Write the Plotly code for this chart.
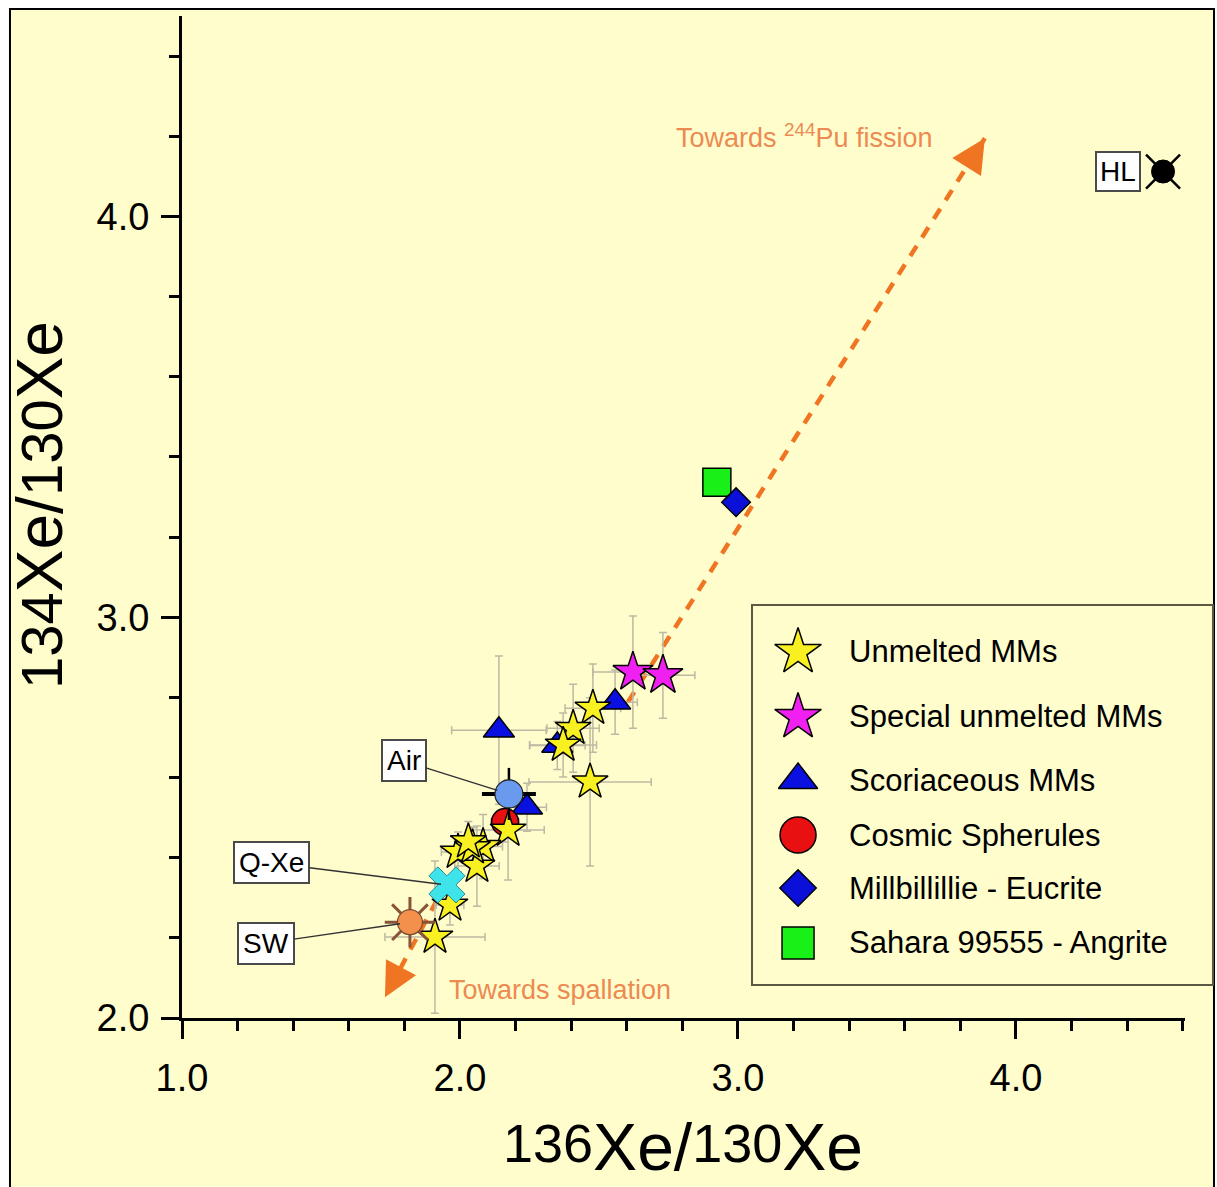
import plotly.graph_objects as go

FONT = "Arial, 'Liberation Sans', sans-serif"
CREAM = "#FFFDCC"
ERR_COLOR = "#BDB9A4"
ORANGE = "#F07522"

# ---- sample data: 136Xe/130Xe (x) and 134Xe/130Xe (y) with 1-sigma errors ----
unmelted_x = [2.478, 2.407, 2.371, 2.468, 2.173, 2.083, 1.993, 2.061, 2.045, 2.030, 1.964, 1.910]
unmelted_y = [2.773, 2.723, 2.681, 2.589, 2.469, 2.428, 2.414, 2.379, 2.425, 2.440, 2.282, 2.202]
unmelted_ex = [0.10, 0.094, 0.12, 0.22, 0.13, 0.07, 0.06, 0.08, 0.05, 0.05, 0.05, 0.18]
unmelted_ey = [0.11, 0.11, 0.08, 0.21, 0.125, 0.08, 0.05, 0.10, 0.05, 0.05, 0.05, 0.19]

special_x = [2.622, 2.730]
special_y = [2.863, 2.855]
special_ex = [0.144, 0.115]
special_ey = [0.14, 0.107]

scoria_x = [2.140, 2.241, 2.558, 2.350]
scoria_y = [2.718, 2.526, 2.788, 2.680]
scoria_ex = [0.17, 0.07, 0.08, 0.10]
scoria_ey = [0.185, 0.06, 0.08, 0.06]

spherule_x = [2.162]
spherule_y = [2.489]
spherule_ex = [0.05]
spherule_ey = [0.05]

eucrite_x = [2.993]
eucrite_y = [3.287]

angrite_x = [2.924]
angrite_y = [3.337]

# ---- reference compositions ----
air_x, air_y = [2.176], [2.559]
air_ex, air_ey = [0.097], [0.065]
qxe_x, qxe_y = [1.953], [2.332]
sw_x, sw_y = [1.820], [2.239]
hl_x, hl_y = [4.529], [4.112]

# ---- trend arrows (start -> tip) ----
fission_x = [2.604, 3.888]
fission_y = [2.788, 4.195]
spallation_x = [1.917, 1.730]
spallation_y = [2.294, 2.052]

# ---- axis ticks ----
x_ticks = [1.0, 2.0, 3.0, 4.0]
y_ticks = [2.0, 3.0, 4.0]

legend_names = ["Unmelted MMs", "Special unmelted MMs", "Scoriaceous MMs",
                "Cosmic Spherules", "Millbillillie - Eucrite", "Sahara 99555 - Angrite"]

# pixel scale of the axes (plot area 1003 x 1002 px)
X_RANGE = [1.0, 4.608]
Y_RANGE = [2.0, 4.5]
PX_PER_X = 1003 / (X_RANGE[1] - X_RANGE[0])
PX_PER_Y = 1002 / (Y_RANGE[1] - Y_RANGE[0])

fig = go.Figure()

# trend lines (dashed) under everything
for xs, ys in [(fission_x, fission_y), (spallation_x, spallation_y)]:
    fig.add_trace(go.Scatter(x=xs, y=ys, mode="lines", showlegend=False, hoverinfo="skip",
                             line=dict(color=ORANGE, width=4.5, dash="12px,10px")))

# error bars drawn first so all markers sit on top
for xs, ys, exs, eys in [(scoria_x, scoria_y, scoria_ex, scoria_ey),
                         (spherule_x, spherule_y, spherule_ex, spherule_ey),
                         (special_x, special_y, special_ex, special_ey),
                         (unmelted_x, unmelted_y, unmelted_ex, unmelted_ey)]:
    fig.add_trace(go.Scatter(
        x=xs, y=ys, mode="markers", showlegend=False, hoverinfo="skip",
        marker=dict(size=2, opacity=0),
        error_x=dict(type="data", array=exs, color=ERR_COLOR, thickness=1.5, width=4),
        error_y=dict(type="data", array=eys, color=ERR_COLOR, thickness=1.5, width=4)))

edge = dict(color="black", width=1.5)
fig.add_trace(go.Scatter(x=scoria_x, y=scoria_y, mode="markers", name=legend_names[2],
                         marker=dict(symbol="triangle-up", size=27, color="#0A10E0", line=edge)))
fig.add_trace(go.Scatter(x=spherule_x, y=spherule_y, mode="markers", name=legend_names[3],
                         marker=dict(symbol="circle", size=27, color="#E81010", line=edge)))
fig.add_trace(go.Scatter(x=angrite_x, y=angrite_y, mode="markers", name=legend_names[5],
                         marker=dict(symbol="square", size=28, color="#18F018", line=edge)))
fig.add_trace(go.Scatter(x=eucrite_x, y=eucrite_y, mode="markers", name=legend_names[4],
                         marker=dict(symbol="diamond", size=22, color="#0A10D8", line=edge)))
fig.add_trace(go.Scatter(x=special_x, y=special_y, mode="markers", name=legend_names[1],
                         marker=dict(symbol="star", size=30, color="#F020F0", line=edge)))
fig.add_trace(go.Scatter(x=unmelted_x, y=unmelted_y, mode="markers", name=legend_names[0],
                         marker=dict(symbol="star", size=27, color="#F8F020", line=edge)))

# Air: blue circle with black cross bars
fig.add_trace(go.Scatter(
    x=air_x, y=air_y, mode="markers", name="Air",
    marker=dict(symbol="circle", size=28, color="#6A9AEE", line=dict(color="#222", width=1.2)),
    error_x=dict(type="data", array=air_ex, color="black", thickness=4, width=0),
    error_y=dict(type="data", array=air_ey, color="black", thickness=2.5, width=0)))

# Solar wind: orange disc with rays
fig.add_trace(go.Scatter(x=sw_x, y=sw_y, mode="markers", showlegend=False, hoverinfo="skip",
                         marker=dict(symbol="asterisk-open", size=42, color="#8A5438",
                                     line=dict(color="#8A5438", width=3))))
fig.add_trace(go.Scatter(x=sw_x, y=sw_y, mode="markers", name="SW",
                         marker=dict(symbol="circle", size=25, color="#F2904C", line=dict(color="#7a4a30", width=1.2))))

# Q-Xe: cyan cross
fig.add_trace(go.Scatter(x=qxe_x, y=qxe_y, mode="markers", name="Q-Xe",
                         marker=dict(symbol="x", size=32, color="#3FE3EA", line=dict(color="#2A8E96", width=1))))

# HL: black disc with diagonal rays
fig.add_trace(go.Scatter(x=hl_x, y=hl_y, mode="markers", showlegend=False, hoverinfo="skip",
                         marker=dict(symbol="x-thin-open", size=34, color="black",
                                     line=dict(color="black", width=2.5))))
fig.add_trace(go.Scatter(x=hl_x, y=hl_y, mode="markers", name="HL",
                         marker=dict(symbol="circle", size=23, color="black", line=dict(color="black", width=1))))

# ---- custom legend on an overlay axis spanning the plot area (0..1) ----
legend_symbols = ["star", "star", "triangle-up", "circle", "diamond", "square"]
legend_colors = ["#F8F020", "#F020F0", "#0A10E0", "#E81010", "#0A10D8", "#18F018"]
legend_sizes = [35, 35, 34, 36, 28, 32]
legend_rows = [0.3653, 0.3004, 0.2375, 0.1826, 0.1297, 0.0749]
legend_marker_x = 0.6142
legend_text_x = 0.663

for sym, col, sz, ry in zip(legend_symbols, legend_colors, legend_sizes, legend_rows):
    fig.add_trace(go.Scatter(x=[legend_marker_x], y=[ry], xaxis="x2", yaxis="y2",
                             mode="markers", showlegend=False, hoverinfo="skip",
                             marker=dict(symbol=sym, size=sz, color=col, line=edge)))

annotations = []
for name, ry in zip(legend_names, legend_rows):
    annotations.append(dict(xref="paper", yref="paper", x=legend_text_x, y=ry,
                            xanchor="left", yanchor="middle", text=name, showarrow=False,
                            font=dict(family=FONT, size=31, color="black")))

# callout labels for reference compositions
box = dict(bgcolor="white", bordercolor="#4A4A4A", borderwidth=2, borderpad=4,
           font=dict(family=FONT, size=28, color="black"))
annotations.append(dict(x=air_x[0], y=air_y[0], text="Air", ax=-105, ay=-33,
                        showarrow=True, arrowhead=0, arrowwidth=1.5, arrowcolor="#333",
                        standoff=12, **box))
annotations.append(dict(x=qxe_x[0], y=qxe_y[0], text="Q-Xe", ax=-175, ay=-22,
                        showarrow=True, arrowhead=0, arrowwidth=1.5, arrowcolor="#333",
                        standoff=6, **box))
annotations.append(dict(x=sw_x[0], y=sw_y[0], text="SW", ax=-144, ay=21,
                        showarrow=True, arrowhead=0, arrowwidth=1.5, arrowcolor="#333",
                        standoff=10, **box))
annotations.append(dict(x=hl_x[0], y=hl_y[0], text="HL", showarrow=False, xshift=-45,
                        bgcolor="white", bordercolor="#4A4A4A", borderwidth=2, borderpad=3,
                        font=dict(family=FONT, size=28, color="black")))

# arrowheads for the two trends: a short solid stub (~34 px) ending at the tip
HEAD_STUB_PX = 34
for xs, ys in [(fission_x, fission_y), (spallation_x, spallation_y)]:
    dxp = (xs[1] - xs[0]) * PX_PER_X
    dyp = (ys[1] - ys[0]) * PX_PER_Y
    back = HEAD_STUB_PX / (dxp ** 2 + dyp ** 2) ** 0.5
    annotations.append(dict(x=xs[1], y=ys[1], xref="x", yref="y", axref="x", ayref="y",
                            ax=xs[1] - back * (xs[1] - xs[0]), ay=ys[1] - back * (ys[1] - ys[0]),
                            text="", showarrow=True, arrowhead=2, arrowsize=1.7,
                            arrowwidth=4, arrowcolor=ORANGE, standoff=0))

annotations.append(dict(x=3.24, y=4.2, xref="x", yref="y", text="Towards <sup>244</sup>Pu fission",
                        showarrow=False, font=dict(family=FONT, size=27, color="#EC8A52")))
annotations.append(dict(x=2.36, y=2.07, xref="x", yref="y", text="Towards spallation",
                        showarrow=False, font=dict(family=FONT, size=27, color="#EC8A52")))

# axis titles
annotations.append(dict(xref="paper", yref="paper", x=0.4995, y=-0.129, showarrow=False,
                        xanchor="center", yanchor="middle",
                        text="<span style='font-size:54px;baseline-shift:8px'>136</span>Xe/"
                             "<span style='font-size:54px;baseline-shift:8px'>130</span>Xe",
                        font=dict(family=FONT, size=66, color="black")))
annotations.append(dict(xref="paper", yref="paper", x=-0.1416, y=0.512, showarrow=False, textangle=-90,
                        xanchor="center", yanchor="middle",
                        text="<span style='font-size:58px'>134</span>Xe/<span style='font-size:58px'>130</span>Xe",
                        font=dict(family=FONT, size=64, color="black")))

shapes = [
    # outer frame
    dict(type="rect", xref="paper", yref="paper", x0=-0.1715, x1=1.0289, y0=-0.19, y1=1.007,
         fillcolor=CREAM, line=dict(color="black", width=2), layer="below"),
    # legend box
    dict(type="rect", xref="paper", yref="paper", x0=0.5683, x1=1.0279, y0=0.0329, y1=0.4122,
         fillcolor=CREAM, line=dict(color="#5A5A44", width=2), layer="below"),
]

axis_common = dict(showline=True, linecolor="black", linewidth=3, showgrid=False, zeroline=False,
                   ticks="outside", ticklen=18, tickwidth=3, tickcolor="black",
                   tickfont=dict(family=FONT, size=38, color="black"), tickformat=".1f",
                   mirror=False)

fig.update_layout(
    width=1217, height=1187, autosize=False,
    margin=dict(l=182, r=32, t=16, b=169),
    paper_bgcolor="white", plot_bgcolor="rgba(0,0,0,0)",
    showlegend=False,
    xaxis=dict(range=X_RANGE, tickvals=x_ticks,
               minor=dict(dtick=0.2, tick0=1.0, ticks="outside", ticklen=10, tickwidth=3, tickcolor="black"),
               ticklabelstandoff=6, **axis_common),
    yaxis=dict(range=Y_RANGE, tickvals=y_ticks,
               minor=dict(dtick=0.2, tick0=2.0, ticks="outside", ticklen=10, tickwidth=3, tickcolor="black"),
               ticklabelstandoff=4, **axis_common),
    xaxis2=dict(range=[0, 1], overlaying="x", visible=False, fixedrange=True),
    yaxis2=dict(range=[0, 1], overlaying="y", visible=False, fixedrange=True),
    annotations=annotations,
    shapes=shapes,
)

fig.write_html("out.html")
